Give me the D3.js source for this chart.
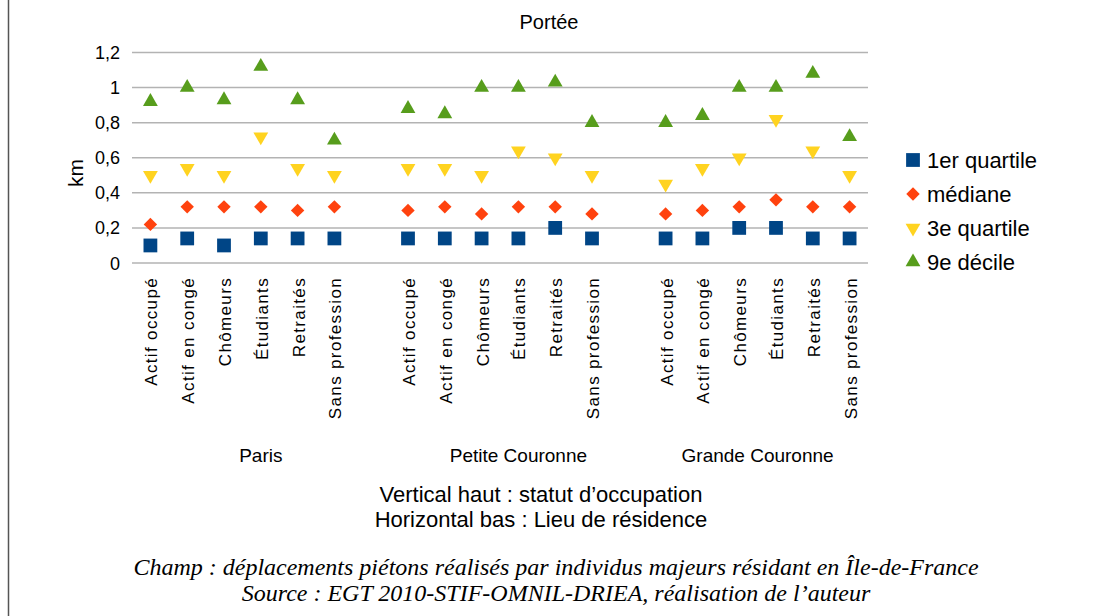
<!DOCTYPE html>
<html><head><meta charset="utf-8">
<script src="https://cdn.jsdelivr.net/npm/d3@7"></script>
<style>
body{margin:0;background:#fff;}
svg{display:block;}
text{font-family:"Liberation Sans",Arial,sans-serif;}
</style></head>
<body>
<svg id="c" width="1098" height="616"></svg>
<script>
const groups = ["Paris", "Petite Couronne", "Grande Couronne"];
const statuses = ["Actif occupé", "Actif en congé", "Chômeurs", "Étudiants", "Retraités", "Sans profession"];
const yTicks = [0, 0.2, 0.4, 0.6, 0.8, 1, 1.2];
const seriesNames = ["1er quartile", "médiane", "3e quartile", "9e décile"];
const seriesColors = ["#004586", "#ff420e", "#ffd320", "#579d1c"];
// values per group, in statuses order
const q1 = [0.10, 0.14, 0.10, 0.14, 0.14, 0.14,  0.14, 0.14, 0.14, 0.14, 0.20, 0.14,  0.14, 0.14, 0.20, 0.20, 0.14, 0.14];
const med = [0.22, 0.32, 0.32, 0.32, 0.30, 0.32,  0.30, 0.32, 0.28, 0.32, 0.32, 0.28,  0.28, 0.30, 0.32, 0.36, 0.32, 0.32];
const q3 = [0.50, 0.54, 0.50, 0.72, 0.54, 0.50,  0.54, 0.54, 0.50, 0.64, 0.60, 0.50,  0.45, 0.54, 0.60, 0.82, 0.64, 0.50];
const d9 = [0.92, 1.00, 0.93, 1.12, 0.93, 0.70,  0.88, 0.85, 1.00, 1.00, 1.03, 0.80,  0.80, 0.84, 1.00, 1.00, 1.08, 0.72];

const svg = d3.select("#c");
const slots = [];
groups.forEach((g, gi) => {
  statuses.forEach(s => slots.push(g + "|" + s));
  if (gi < groups.length - 1) slots.push("gap" + gi);
});
const x = d3.scaleBand().domain(slots).range([132, 868]);
const y = d3.scaleLinear().domain([0, 1.2]).range([263, 52.5]);

svg.append("line").attr("x1", 8.5).attr("x2", 8.5).attr("y1", 0).attr("y2", 616)
  .attr("stroke", "#555").attr("stroke-width", 1.5);

svg.append("g").selectAll("line").data(yTicks).join("line")
  .attr("x1", 132).attr("x2", 868)
  .attr("y1", d => y(d)).attr("y2", d => y(d))
  .attr("stroke", "#b3b3b3").attr("stroke-width", 1.5);

svg.append("g").selectAll("text").data(yTicks).join("text")
  .attr("x", 120).attr("y", d => y(d) + 6.5)
  .attr("text-anchor", "end").attr("font-size", 18).attr("fill", "#000")
  .text(d => String(d).replace(".", ","));

svg.append("text").attr("transform", "translate(83,173) rotate(-90)")
  .attr("text-anchor", "middle").attr("font-size", 21).text("km");

svg.append("text").attr("x", 549).attr("y", 29).attr("text-anchor", "middle")
  .attr("font-size", 20).text("Portée");

const catSlots = slots.filter(s => !s.startsWith("gap"));
svg.append("g").selectAll("text").data(catSlots).join("text")
  .attr("transform", d => `translate(${x(d) + x.bandwidth() / 2 + 7},277) rotate(-90)`)
  .attr("text-anchor", "end").attr("font-size", 17).attr("letter-spacing", 1.35)
  .text(d => d.split("|")[1]);

svg.append("g").selectAll("text").data(groups).join("text")
  .attr("x", (g, gi) => {
    const first = x(g + "|" + statuses[0]);
    const lastKey = gi < groups.length - 1 ? "gap" + gi : g + "|" + statuses[statuses.length - 1];
    return (first + x(lastKey) + x.bandwidth()) / 2;
  })
  .attr("y", 462).attr("text-anchor", "middle").attr("font-size", 19).text(d => d);

const cx = i => x(catSlots[i]) + x.bandwidth() / 2;
const sym = [d3.symbolSquare, d3.symbolSquare, d3.symbolTriangle, d3.symbolTriangle];
const sizes = [190, 90, 95, 95];
const rot = [0, 45, 180, 0];
const seriesData = [q1, med, q3, d9];
seriesData.forEach((vals, si) => {
  svg.append("g").selectAll("path").data(vals).join("path")
    .attr("d", d3.symbol().type(sym[si]).size(sizes[si]))
    .attr("transform", (v, i) => `translate(${cx(i)},${y(v)}) rotate(${rot[si]})`)
    .attr("fill", seriesColors[si]);
});

const lg = svg.append("g");
seriesNames.forEach((n, i) => {
  const ly = 160 + i * 34;
  lg.append("path").attr("d", d3.symbol().type(sym[i]).size(sizes[i]))
    .attr("transform", `translate(913,${ly}) rotate(${rot[i]})`).attr("fill", seriesColors[i]);
  lg.append("text").attr("x", 927).attr("y", ly + 7.5).attr("font-size", 22).text(n);
});

svg.append("text").attr("x", 541).attr("y", 502).attr("text-anchor", "middle").attr("font-size", 22)
  .text("Vertical haut : statut d’occupation");
svg.append("text").attr("x", 541).attr("y", 527).attr("text-anchor", "middle").attr("font-size", 22)
  .text("Horizontal bas : Lieu de résidence");
svg.append("text").attr("x", 556).attr("y", 575).attr("text-anchor", "middle").attr("font-size", 24)
  .attr("font-style", "italic").style("font-family", "'Liberation Serif','Times New Roman',serif")
  .text("Champ : déplacements piétons réalisés par individus majeurs résidant en Île-de-France");
svg.append("text").attr("x", 556).attr("y", 601).attr("text-anchor", "middle").attr("font-size", 24)
  .attr("font-style", "italic").style("font-family", "'Liberation Serif','Times New Roman',serif")
  .text("Source : EGT 2010-STIF-OMNIL-DRIEA, réalisation de l’auteur");
</script>
</body></html>
